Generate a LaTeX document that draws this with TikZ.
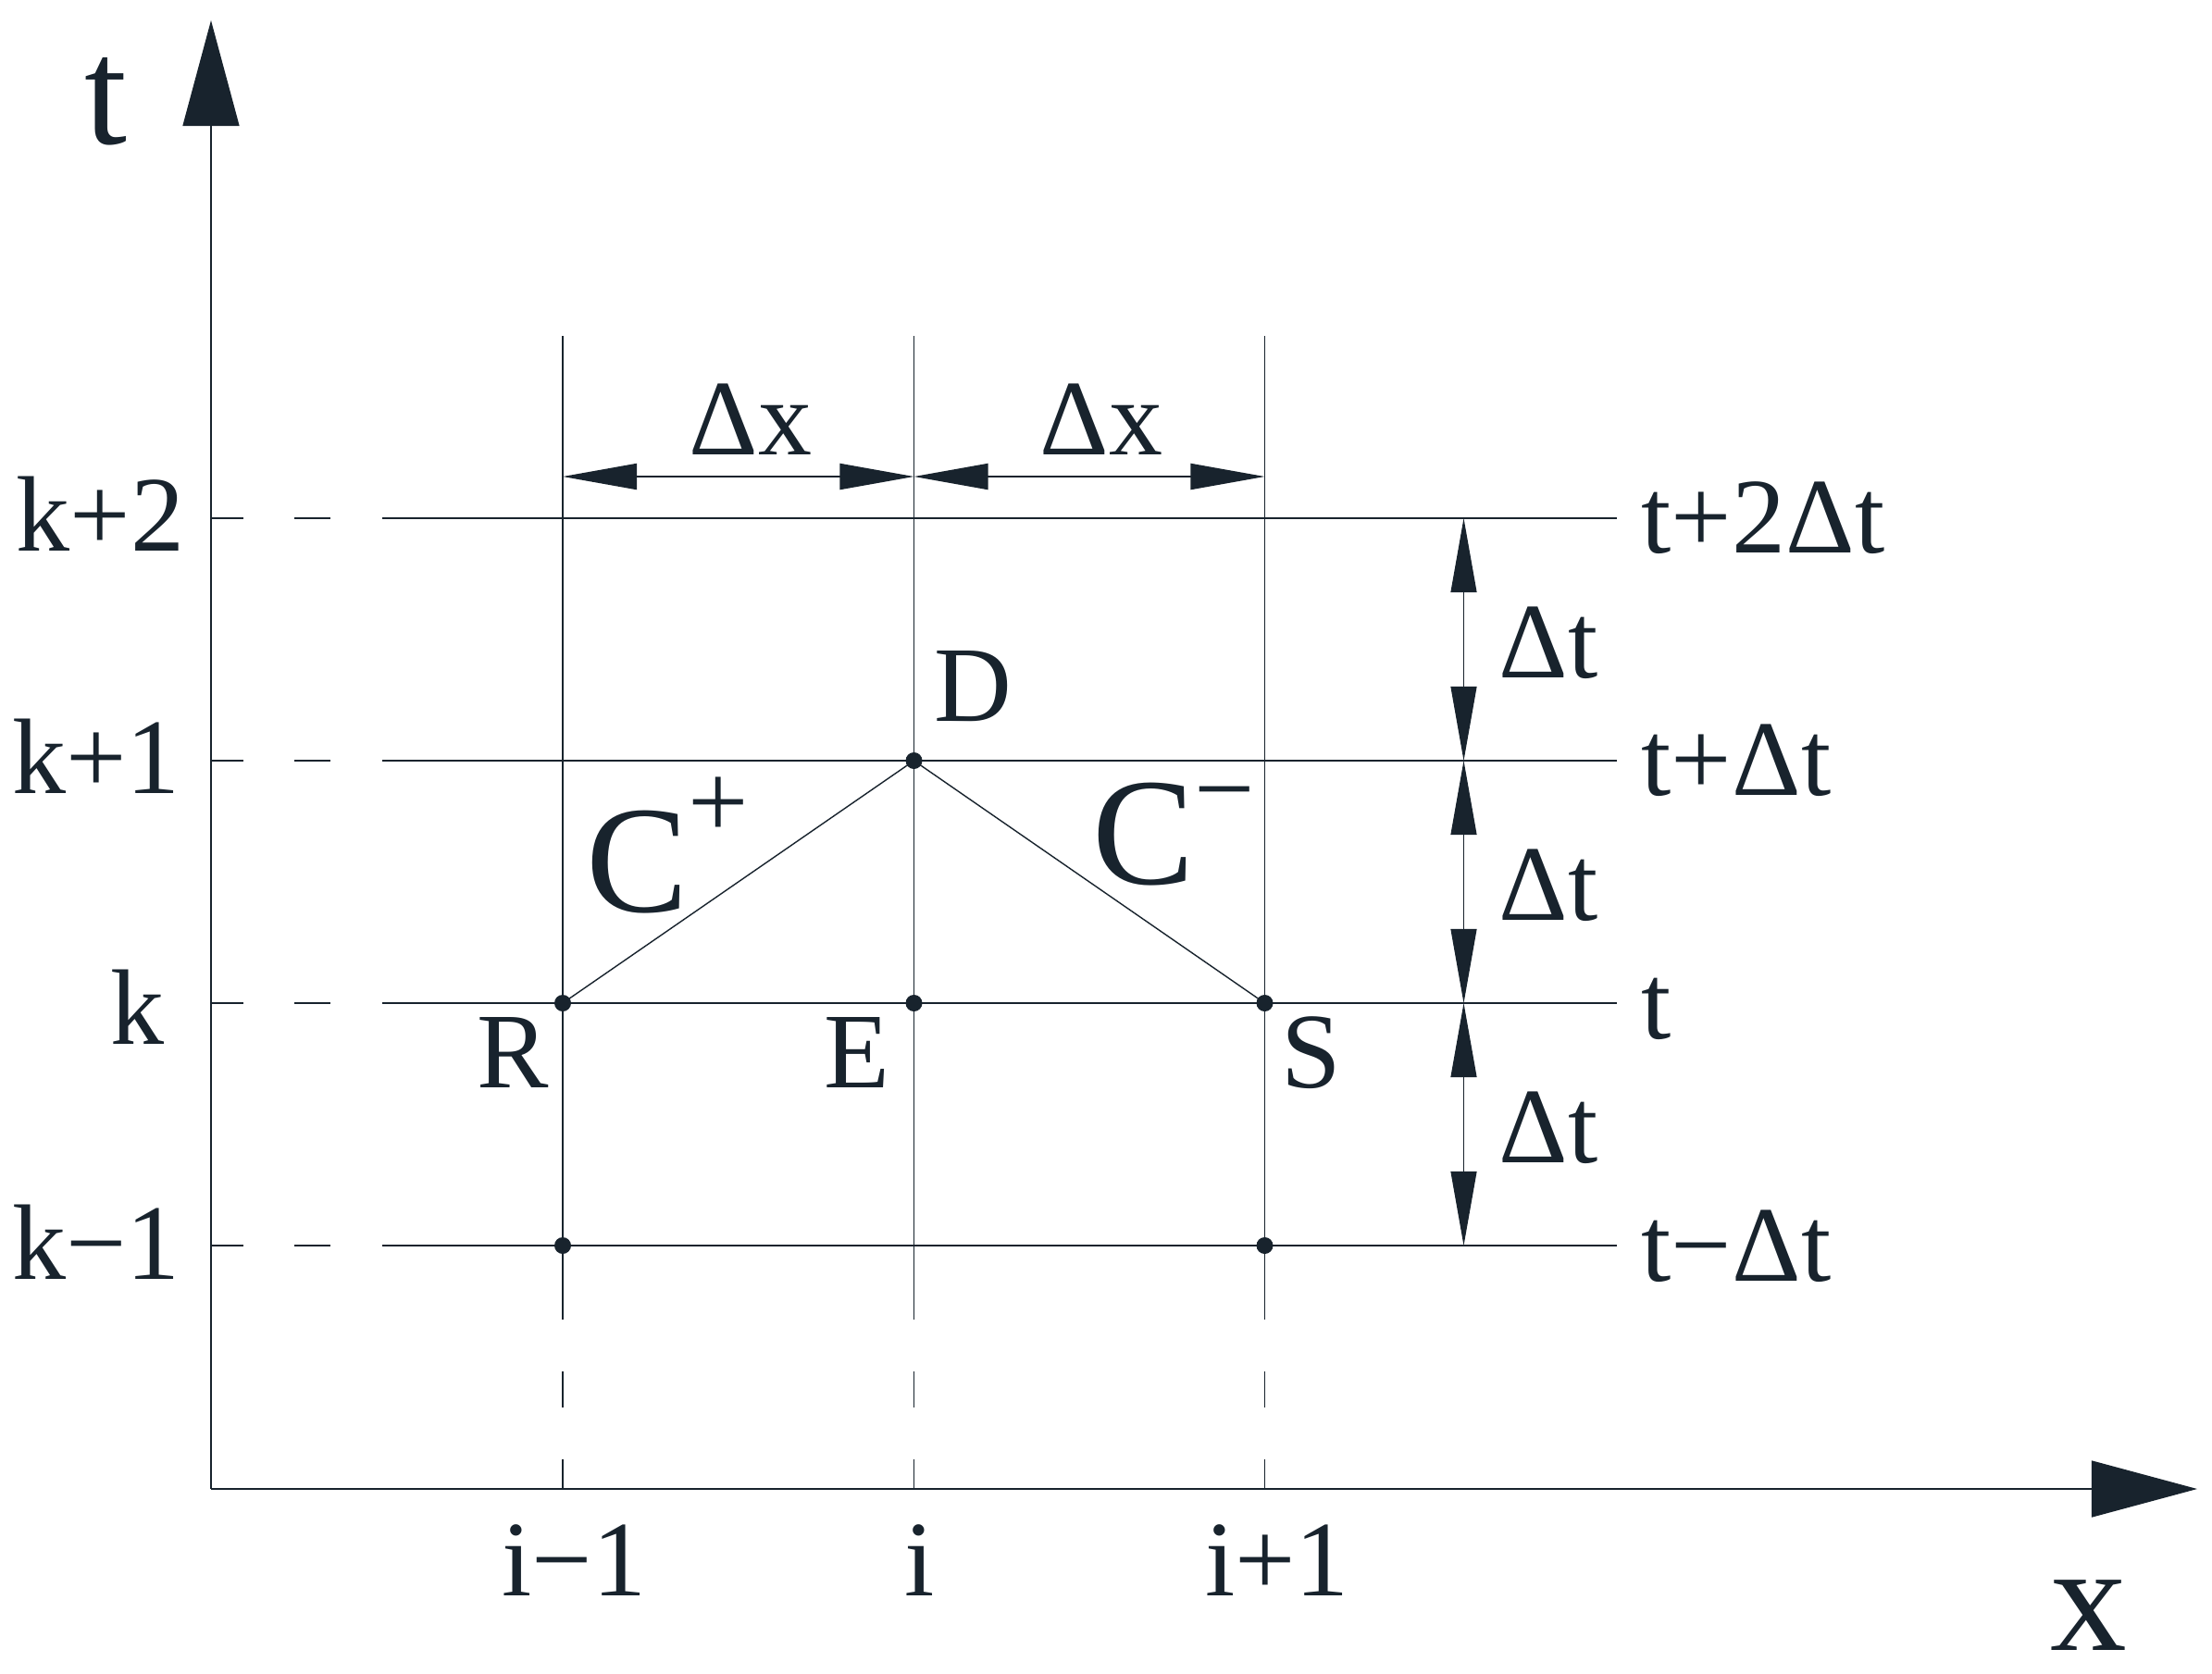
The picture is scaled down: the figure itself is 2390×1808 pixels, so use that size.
\documentclass[tikz,border=0pt]{standalone}
\usepackage{fontspec}
\setmainfont{Liberation Serif}
\usetikzlibrary{arrows.meta}
\definecolor{ink}{RGB}{24,35,45}
\begin{document}
\begin{tikzpicture}[x=0.01cm,y=-0.01cm,
  gridthin/.style={draw=ink, line width=0.3pt},
  gridthick/.style={draw=ink, line width=0.55pt},
  axisline/.style={draw=ink, line width=0.4pt},
  charline/.style={draw=ink, line width=0.4pt},
  dimtip/.tip={Triangle[length=0.8cm,width=0.28cm]},
  dimarrow/.style={draw=ink, line width=0.4pt, dimtip-dimtip},
  axistip/.tip={Triangle[length=1.14cm,width=0.61cm]},
  gdot/.style={circle, fill=ink, inner sep=0pt, minimum size=0.18cm},
  lbl/.style={inner sep=0pt, text=ink, font=\fontsize{33}{40}\selectfont},
  big/.style={inner sep=0pt, text=ink, font=\fontsize{47}{56}\selectfont}]
\useasboundingbox (0,0) rectangle (2390,1808);

% axes
\coordinate (O) at (228,1609);
\coordinate (Ttop) at (228,22);
\coordinate (Xend) at (2374,1609);
\draw[axisline, -axistip] (O) -- (Ttop);
\draw[axisline, -axistip] (O) -- (Xend);
\node[big, anchor=base] (tlab) at (114,155) {t};
\node[big, anchor=base] (xlab) at (2257,1783) {x};

% vertical grid lines
\foreach \nm/\x/\w in {a/608/0.55pt, b/987.5/0.34pt, c/1366.5/0.3pt}{
  \coordinate (\nm top) at (\x,363);
  \coordinate (\nm s1) at (\x,1426);
  \coordinate (\nm d1) at (\x,1482);
  \coordinate (\nm d2) at (\x,1521);
  \coordinate (\nm d3) at (\x,1577);
  \coordinate (\nm d4) at (\x,1609);
  \draw[draw=ink, line width=\w] (\nm top) -- (\nm s1);
  \draw[draw=ink, line width=\w] (\nm d1) -- (\nm d2);
  \draw[draw=ink, line width=\w] (\nm d3) -- (\nm d4);
}

% horizontal grid lines
\foreach \nm/\y/\w in {h2/560/0.55pt, h1/822/0.36pt, h0/1084/0.36pt, hm/1346/0.36pt}{
  \coordinate (\nm a) at (228,\y);
  \coordinate (\nm b) at (263,\y);
  \coordinate (\nm c) at (318,\y);
  \coordinate (\nm d) at (357,\y);
  \coordinate (\nm e) at (413,\y);
  \coordinate (\nm f) at (1747,\y);
  \draw[draw=ink, line width=\w] (\nm a) -- (\nm b);
  \draw[draw=ink, line width=\w] (\nm c) -- (\nm d);
  \draw[draw=ink, line width=\w] (\nm e) -- (\nm f);
}

% left labels
\node[lbl, anchor=base] (k2) at (108.5,595) {k+2};
\node[lbl, anchor=base] (k1) at (104,857) {k+1};
\node[lbl, anchor=base] (k0) at (149,1128) {k};
\node[lbl, anchor=base] (km) at (104,1382) {k−1};

% right labels
\node[lbl, anchor=base west] (r2) at (1773,597) {t+2Δt};
\node[lbl, anchor=base west] (r1) at (1773,859) {t+Δt};
\node[lbl, anchor=base west] (r0) at (1773,1122) {t};
\node[lbl, anchor=base west] (rm) at (1773,1384) {t−Δt};

% dimension dx
\coordinate (dx0) at (608,515);
\coordinate (dx1) at (987.5,515);
\coordinate (dx2) at (1366.5,515);
\draw[dimarrow, line width=0.55pt] (dx0) -- (dx1);
\draw[dimarrow, line width=0.55pt] (dx1) -- (dx2);
\node[lbl, anchor=base] (dxl1) at (811,491) {Δx};
\node[lbl, anchor=base] (dxl2) at (1190,491) {Δx};

% dimension dt
\coordinate (dt2) at (1581.5,560);
\coordinate (dt1) at (1581.5,822);
\coordinate (dt0) at (1581.5,1084);
\coordinate (dtm) at (1581.5,1346);
\draw[dimarrow, line width=0.32pt] (dt2) -- (dt1);
\draw[dimarrow, line width=0.32pt] (dt1) -- (dt0);
\draw[dimarrow, line width=0.32pt] (dt0) -- (dtm);
\node[lbl, anchor=base west] (dtl1) at (1619,732) {Δt};
\node[lbl, anchor=base west] (dtl2) at (1619,994) {Δt};
\node[lbl, anchor=base west] (dtl3) at (1619,1256) {Δt};

% characteristic points
\node[gdot] (R) at (608,1084) {};
\node[gdot] (E) at (987.5,1084) {};
\node[gdot] (S) at (1366.5,1084) {};
\node[gdot] (D) at (987.5,822) {};
\node[gdot] (P1) at (608,1346) {};
\node[gdot] (P2) at (1366.5,1346) {};
\draw[charline] (R.center) -- (D.center) -- (S.center);

\node[lbl, anchor=base] (Rl) at (554.5,1175) {R};
\node[lbl, anchor=base] (El) at (926,1175) {E};
\node[lbl, anchor=base] (Sl) at (1416.5,1175) {S};
\node[lbl, anchor=base] (Dl) at (1051.5,779) {D};

\node[big, anchor=base west] (cplus) at (633,985) {C\raisebox{0.79cm}{\fontsize{33}{40}\selectfont +}};
\node[big, anchor=base west] (cminus) at (1180,955) {C\raisebox{0.63cm}{\fontsize{33}{40}\selectfont −}};

% bottom labels
\node[lbl, anchor=base] (im) at (620.5,1724) {i−1};
\node[lbl, anchor=base] (i0) at (994,1724) {i};
\node[lbl, anchor=base] (ip) at (1380,1724) {i+1};
\end{tikzpicture}
\end{document}
